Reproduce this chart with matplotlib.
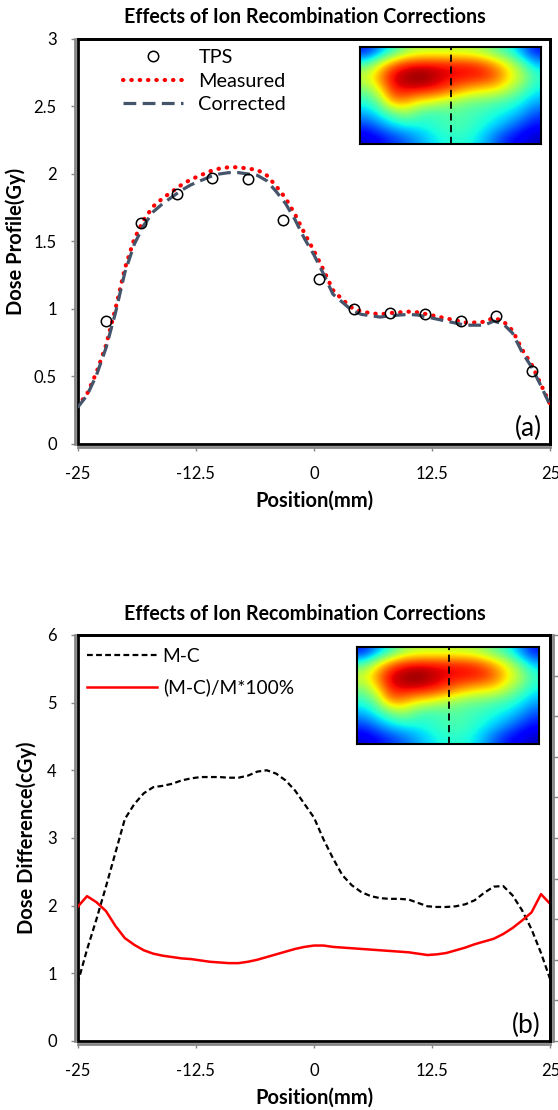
import numpy as np
import matplotlib
matplotlib.use("Agg")
import matplotlib.pyplot as plt

plt.rcParams['font.family'] = ['Lato', 'DejaVu Sans']

# positions (mm), 1 mm steps
pos = np.arange(-25, 26, 1)

# measured / corrected dose profiles (Gy)
measured = [0.28, 0.37, 0.53, 0.73, 1.00, 1.30, 1.52, 1.66, 1.76, 1.82, 1.87,
            1.92, 1.96, 1.99, 2.02, 2.04, 2.05, 2.05, 2.04, 2.03, 1.99, 1.91,
            1.82, 1.70, 1.56, 1.43, 1.29, 1.14, 1.07, 1.01, 0.98, 0.97, 0.96,
            0.97, 0.975, 0.98, 0.975, 0.96, 0.945, 0.93, 0.915, 0.90, 0.90,
            0.905, 0.935, 0.91, 0.84, 0.70, 0.59, 0.44, 0.29]
corrected = [0.27, 0.36, 0.51, 0.71, 0.97, 1.27, 1.48, 1.62, 1.72, 1.78, 1.83,
             1.88, 1.92, 1.95, 1.98, 2.00, 2.01, 2.01, 2.00, 1.99, 1.95, 1.87,
             1.78, 1.66, 1.52, 1.40, 1.26, 1.11, 1.05, 0.99, 0.96, 0.95, 0.94,
             0.95, 0.955, 0.96, 0.955, 0.94, 0.925, 0.91, 0.895, 0.88, 0.88,
             0.88, 0.91, 0.89, 0.82, 0.68, 0.57, 0.43, 0.28]

# TPS points
tps_pos = [-22, -18.25, -14.5, -10.75, -7, -3.25, 0.5, 4.25, 8, 11.75, 15.5, 19.25, 23]
tps_dose = [0.91, 1.64, 1.85, 1.97, 1.96, 1.66, 1.22, 1.00, 0.97, 0.96, 0.91, 0.95, 0.54]

# differences, same positions as above
m_minus_c = [0.85, 1.35, 1.80, 2.28, 2.78, 3.28, 3.50, 3.66, 3.75, 3.77, 3.80,
             3.85, 3.88, 3.90, 3.90, 3.90, 3.89, 3.89, 3.92, 3.98, 4.00, 3.95,
             3.85, 3.70, 3.50, 3.30, 2.98, 2.70, 2.45, 2.30, 2.20, 2.14, 2.11,
             2.10, 2.10, 2.09, 2.04, 1.99, 1.98, 1.98, 1.99, 2.02, 2.08, 2.19,
             2.28, 2.29, 2.15, 1.93, 1.65, 1.30, 0.90]
pct_diff = [1.98, 2.14, 2.05, 1.92, 1.70, 1.52, 1.42, 1.34, 1.29, 1.26, 1.24,
            1.22, 1.21, 1.19, 1.17, 1.16, 1.15, 1.15, 1.17, 1.20, 1.24, 1.28,
            1.32, 1.36, 1.39, 1.41, 1.41, 1.39, 1.38, 1.37, 1.36, 1.35, 1.34,
            1.33, 1.32, 1.31, 1.29, 1.27, 1.28, 1.30, 1.34, 1.38, 1.43, 1.47,
            1.51, 1.58, 1.67, 1.78, 1.90, 2.17, 2.02]

# dose map in the insets (coarse, jet scale 0-1)
dose_map = np.array([
    [0.15, 0.27, 0.40, 0.52, 0.57, 0.58, 0.58, 0.58, 0.57, 0.54, 0.47, 0.40, 0.27, 0.14],
    [0.45, 0.63, 0.80, 0.89, 0.91, 0.91, 0.90, 0.89, 0.88, 0.83, 0.74, 0.62, 0.47, 0.32],
    [0.62, 0.76, 0.93, 0.97, 1.00, 0.97, 0.92, 0.91, 0.90, 0.89, 0.82, 0.68, 0.57, 0.42],
    [0.50, 0.65, 0.88, 0.92, 0.92, 0.90, 0.86, 0.78, 0.72, 0.68, 0.66, 0.57, 0.47, 0.37],
    [0.40, 0.50, 0.76, 0.75, 0.66, 0.63, 0.57, 0.53, 0.49, 0.48, 0.45, 0.42, 0.37, 0.30],
    [0.30, 0.38, 0.46, 0.53, 0.45, 0.41, 0.43, 0.45, 0.43, 0.41, 0.38, 0.35, 0.29, 0.20],
    [0.18, 0.25, 0.33, 0.37, 0.38, 0.40, 0.43, 0.44, 0.42, 0.38, 0.33, 0.26, 0.18, 0.13],
    [0.08, 0.12, 0.17, 0.22, 0.28, 0.34, 0.38, 0.40, 0.38, 0.32, 0.22, 0.14, 0.10, 0.06],
])

title = 'Effects of Ion Recombination Corrections'
xticks = [-25, -12.5, 0, 12.5, 25]
xticklabels = ['-25', '-12.5', '0', '12.5', '25']

fig = plt.figure(figsize=(5.58, 11.10), dpi=100)
ax1 = fig.add_axes([0.139, 0.600, 0.8475, 0.3649])
ax2 = fig.add_axes([0.139, 0.0622, 0.8475, 0.3658])

grey = '#868686'


def style_axes(ax):
    ax.set_xlim(-25, 25)
    ax.set_xticks(xticks)
    ax.set_xticklabels(xticklabels)
    ax.patch.set_edgecolor('black')
    ax.patch.set_linewidth(2.0)
    for s in ['top', 'right']:
        ax.spines[s].set_color('black')
        ax.spines[s].set_linewidth(2.0)
    for s in ['left', 'bottom']:
        ax.spines[s].set_color(grey)
        ax.spines[s].set_linewidth(2.0)
        ax.spines[s].set_position(('outward', 2))
    ax.tick_params(direction='out', length=3, width=1, color=grey, labelsize=12)
    ax.tick_params(axis='x', pad=11)
    ax.tick_params(axis='y', pad=10)
    ax.set_xlabel('Position(mm)', fontsize=14.5, fontweight='bold')
    ax.xaxis.set_label_coords(0.5, -0.115)


def add_inset(ax, rect):
    ins = ax.inset_axes(rect)
    ins.imshow(dose_map, cmap='jet', vmin=0, vmax=1, aspect='auto',
               interpolation='bicubic', extent=[0, 1, 0, 1])
    ins.axvline(0.505, color='black', lw=1.3, ls=(0, (4, 2.5)))
    ins.set_xticks([])
    ins.set_yticks([])
    for s in ins.spines.values():
        s.set_linewidth(1.5)
        s.set_color('black')


# --- (a) dose profiles ---
style_axes(ax1)
ax1.plot(pos, measured, color='#FF0000', lw=3.0, ls=(0, (0.1, 1.9)),
         dash_capstyle='round', label='Measured', zorder=3)
ax1.plot(pos, corrected, color='#44546A', lw=2.3, ls=(0, (4, 2)),
         label='Corrected', zorder=4)
ax1.plot(tps_pos, tps_dose, ls='none', marker='o', ms=7.5, mfc='none',
         mec='black', mew=1.1, label='TPS', zorder=5)
ax1.set_ylim(0, 3)
ax1.set_yticks([0, 0.5, 1, 1.5, 2, 2.5, 3])
ax1.set_yticklabels(['0', '0.5', '1', '1.5', '2', '2.5', '3'])
ax1.set_ylabel('Dose Profile(Gy)', fontsize=14.5, fontweight='bold')
ax1.yaxis.set_label_coords(-0.11, 0.5)
h, l = ax1.get_legend_handles_labels()
ax1.legend([h[2], h[0], h[1]], [l[2], l[0], l[1]], loc='upper left',
           bbox_to_anchor=(0.096, 0.975), frameon=False, fontsize=14.3,
           borderpad=0, borderaxespad=0, handlelength=3.0, handletextpad=0.8,
           labelspacing=0.33, numpoints=1)
ax1.text(0.982, 0.008, '(a)', transform=ax1.transAxes, ha='right', va='bottom',
         fontsize=19)
add_inset(ax1, [0.597, 0.741, 0.383, 0.240])
fig.text(0.547, 1 - 17 / 1110, title, ha='center', va='center',
         fontsize=14.1, fontweight='bold')

# --- (b) differences ---
style_axes(ax2)
ax2.plot(pos, m_minus_c, color='black', lw=1.6, ls=(0, (2.6, 1.5)), label='M-C')
ax2.plot(pos, pct_diff, color='#FF0000', lw=1.8, label='(M-C)/M*100%')
ax2.set_ylim(0, 6)
ax2.set_yticks(range(0, 7))
ax2.set_ylabel('Dose Difference(cGy)', fontsize=14.5, fontweight='bold')
ax2.yaxis.set_label_coords(-0.085, 0.5)
ax2.legend(loc='upper left', bbox_to_anchor=(0.02, 0.968), frameon=False,
           fontsize=13.8, borderpad=0, borderaxespad=0, handlelength=3.65,
           handletextpad=0.3, labelspacing=0.7)
ax2.text(0.98, 0.008, '(b)', transform=ax2.transAxes, ha='right', va='bottom',
         fontsize=19)
add_inset(ax2, [0.591, 0.731, 0.385, 0.239])
fig.text(0.547, 1 - 614 / 1110, title, ha='center', va='center',
         fontsize=14.1, fontweight='bold')

# secondary axis on the right (labels fall off the figure)
ax2r = ax2.twinx()
ax2r.set_ylim(0, 10)
ax2r.set_yticks(range(0, 11))
ax2r.tick_params(axis='y', direction='out', length=4, width=1, color=grey,
                 labelright=False)
ax2r.spines['right'].set_color(grey)
ax2r.spines['right'].set_linewidth(2.0)
ax2r.spines['right'].set_position(('outward', 2))
for s in ['top', 'left', 'bottom']:
    ax2r.spines[s].set_visible(False)

fig.savefig('out.png', dpi=100)
